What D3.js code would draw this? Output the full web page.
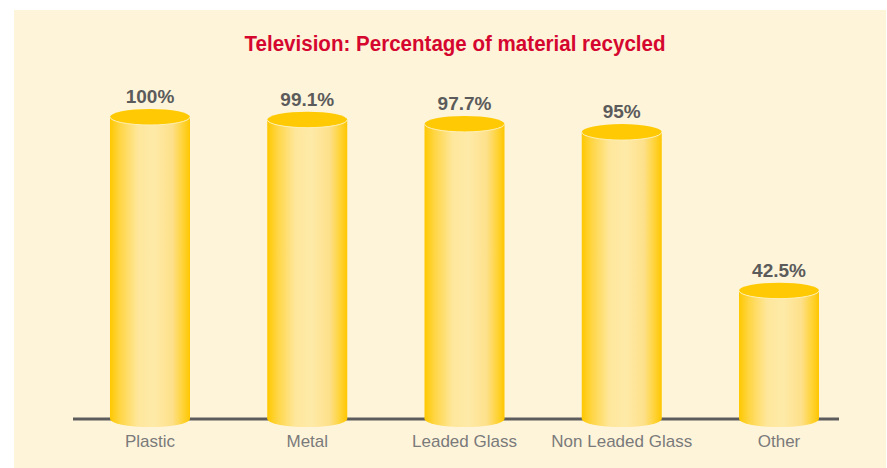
<!DOCTYPE html>
<html>
<head>
<meta charset="utf-8">
<script src="https://cdn.jsdelivr.net/npm/d3@7"></script>
<style>
  body { margin: 0; background: #fff; }
  svg { display: block; }
</style>
</head>
<body>
<script>
var categories = ['Plastic', 'Metal', 'Leaded Glass', 'Non Leaded Glass', 'Other'],
    values = [100, 99.1, 97.7, 95, 42.5],
    valueLabels = ['100%', '99.1%', '97.7%', '95%', '42.5%'];

var w = 887,
    h = 468,
    baseY = 419,
    rx = 40,
    ry = 8;

var svg = d3.select('body')
  .append('svg')
  .attr('width', w)
  .attr('height', h);

// cream panel
svg.append('rect')
  .attr('x', 14).attr('y', 10)
  .attr('width', 872).attr('height', 458)
  .attr('fill', '#fef4da');

// gradient for cylinder body
var defs = svg.append('defs');
var grad = defs.append('linearGradient')
  .attr('id', 'cyl')
  .attr('x1', '0%').attr('x2', '100%')
  .attr('y1', '0%').attr('y2', '0%');
[['0%', '#ffc800'], ['12%', '#ffd541'], ['35%', '#fee79c'], ['55%', '#feeaa8'],
 ['78%', '#fde08a'], ['92%', '#ffd231'], ['100%', '#ffc600']].forEach(function(s){
  grad.append('stop').attr('offset', s[0]).attr('stop-color', s[1]);
});

var x = d3.scalePoint()
  .domain(categories)
  .range([150, 779]);

var y = d3.scaleLinear()
  .domain([0, 100])
  .range([baseY, 117]);

// title
svg.append('text')
  .attr('x', 455)
  .attr('y', 51)
  .attr('text-anchor', 'middle')
  .attr('textLength', 421)
  .attr('lengthAdjust', 'spacingAndGlyphs')
  .style('font-family', '"Liberation Sans Narrow", "Liberation Sans", Arial, sans-serif')
  .style('font-weight', 'bold')
  .style('font-size', '22px')
  .attr('fill', '#d5072f')
  .text('Television: Percentage of material recycled');

// baseline
svg.append('line')
  .attr('x1', 73).attr('x2', 839)
  .attr('y1', baseY).attr('y2', baseY)
  .attr('stroke', '#5c5c5c')
  .attr('stroke-width', 3);

var bars = svg.selectAll('g.bar')
  .data(values)
  .enter()
  .append('g')
  .attr('class', 'bar')
  .attr('transform', function(d, i){
    return 'translate(' + x(categories[i]) + ',0)';
  });

// bottom ellipse
bars.append('ellipse')
  .attr('cx', 0).attr('cy', baseY)
  .attr('rx', rx).attr('ry', ry)
  .attr('fill', 'url(#cyl)');

// body
bars.append('rect')
  .attr('x', -rx)
  .attr('y', function(d){ return y(d); })
  .attr('width', rx * 2)
  .attr('height', function(d){ return baseY - y(d); })
  .attr('fill', 'url(#cyl)');

// top
bars.append('ellipse')
  .attr('cx', 0).attr('cy', function(d){ return y(d); })
  .attr('rx', rx).attr('ry', ry)
  .attr('fill', '#ffca03');

// light front rim of the top
bars.append('path')
  .attr('d', function(d){
    var t = y(d);
    return 'M' + (-rx) + ',' + t + ' A' + rx + ',' + ry + ' 0 0,0 ' + rx + ',' + t;
  })
  .attr('fill', 'none')
  .attr('stroke', '#fff0b8')
  .attr('stroke-width', 1);

// value labels
bars.append('text')
  .attr('x', 0)
  .attr('y', function(d){ return y(d) - 14; })
  .attr('text-anchor', 'middle')
  .style('font-family', '"Liberation Sans", Arial, sans-serif')
  .style('font-weight', 'bold')
  .style('font-size', '19px')
  .attr('fill', '#5b5b5b')
  .text(function(d, i){ return valueLabels[i]; });

// category labels
bars.append('text')
  .attr('x', 0)
  .attr('y', 447)
  .attr('text-anchor', 'middle')
  .style('font-family', '"Liberation Sans", Arial, sans-serif')
  .style('font-size', '17px')
  .attr('fill', '#7a7a7a')
  .text(function(d, i){ return categories[i]; });
</script>
</body>
</html>
